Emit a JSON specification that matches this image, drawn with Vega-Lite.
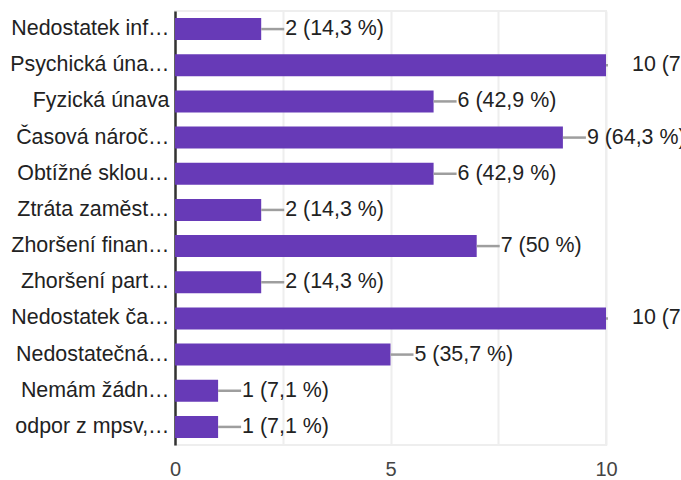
{
  "$schema": "https://vega.github.io/schema/vega-lite/v6.json",
  "autosize": {"type": "none"},
  "width": 431,
  "height": 434,
  "padding": {"left": 175, "top": 11, "right": 75, "bottom": 35},
  "background": "#ffffff",
  "config": {
    "font": "Liberation Sans",
    "view": {"stroke": "#eeeeee", "strokeWidth": 2}
  },
  "data": {
    "values": [
      {"kat": "Nedostatek inf…", "pocet": 2, "popis": "2 (14,3 %)"},
      {"kat": "Psychická úna…", "pocet": 10, "popis": "10 (71,4 %)"},
      {"kat": "Fyzická únava", "pocet": 6, "popis": "6 (42,9 %)"},
      {"kat": "Časová nároč…", "pocet": 9, "popis": "9 (64,3 %)"},
      {"kat": "Obtížné sklou…", "pocet": 6, "popis": "6 (42,9 %)"},
      {"kat": "Ztráta zaměst…", "pocet": 2, "popis": "2 (14,3 %)"},
      {"kat": "Zhoršení finan…", "pocet": 7, "popis": "7 (50 %)"},
      {"kat": "Zhoršení part…", "pocet": 2, "popis": "2 (14,3 %)"},
      {"kat": "Nedostatek ča…", "pocet": 10, "popis": "10 (71,4 %)"},
      {"kat": "Nedostatečná…", "pocet": 5, "popis": "5 (35,7 %)"},
      {"kat": "Nemám žádn…", "pocet": 1, "popis": "1 (7,1 %)"},
      {"kat": "odpor z mpsv,…", "pocet": 1, "popis": "1 (7,1 %)"}
    ]
  },
  "encoding": {
    "y": {
      "field": "kat",
      "type": "nominal",
      "sort": null,
      "scale": {"paddingInner": 0.39, "paddingOuter": 0.195},
      "axis": {
        "title": null,
        "ticks": false,
        "domainColor": "#333333",
        "domainWidth": 2.5,
        "labelFont": "Liberation Sans",
        "labelFontSize": 21.4,
        "labelColor": "#222222",
        "labelPadding": 6,
        "labelLimit": 0,
        "grid": false
      }
    }
  },
  "layer": [
    {
      "mark": {"type": "bar", "color": "#673ab7"},
      "encoding": {
        "x": {
          "field": "pocet",
          "type": "quantitative",
          "scale": {"domain": [0, 10], "nice": false},
          "axis": {
            "title": null,
            "values": [0, 2.5, 5, 7.5, 10],
            "labelExpr": "datum.value % 5 === 0 ? datum.label : ''",
            "labelFlush": false,
            "ticks": false,
            "domain": false,
            "grid": true,
            "gridColor": "#eeeeee",
            "gridWidth": 2,
            "labelFont": "Liberation Sans",
            "labelFontSize": 20,
            "labelColor": "#444444",
            "labelPadding": 14
          }
        }
      }
    },
    {
      "transform": [{"filter": "datum.pocet < 10"}],
      "mark": {"type": "rule", "color": "#9e9e9e", "strokeWidth": 2.5, "x2Offset": 23},
      "encoding": {
        "x": {"field": "pocet", "type": "quantitative"},
        "x2": {"field": "pocet"}
      }
    },
    {
      "transform": [{"filter": "datum.pocet >= 10"}],
      "mark": {"type": "rule", "color": "#9e9e9e", "strokeWidth": 2.5, "x2Offset": 2},
      "encoding": {
        "x": {"field": "pocet", "type": "quantitative"},
        "x2": {"field": "pocet"}
      }
    },
    {
      "transform": [{"filter": "datum.pocet < 10"}],
      "mark": {"type": "text", "align": "left", "baseline": "middle", "dx": 24, "fontSize": 21.4, "color": "#222222", "font": "Liberation Sans"},
      "encoding": {
        "x": {"field": "pocet", "type": "quantitative"},
        "text": {"field": "popis"}
      }
    },
    {
      "transform": [{"filter": "datum.pocet >= 10"}],
      "mark": {"type": "text", "align": "left", "baseline": "middle", "dx": 26, "fontSize": 21.4, "color": "#222222", "font": "Liberation Sans"},
      "encoding": {
        "x": {"field": "pocet", "type": "quantitative"},
        "text": {"field": "popis"}
      }
    }
  ]
}
